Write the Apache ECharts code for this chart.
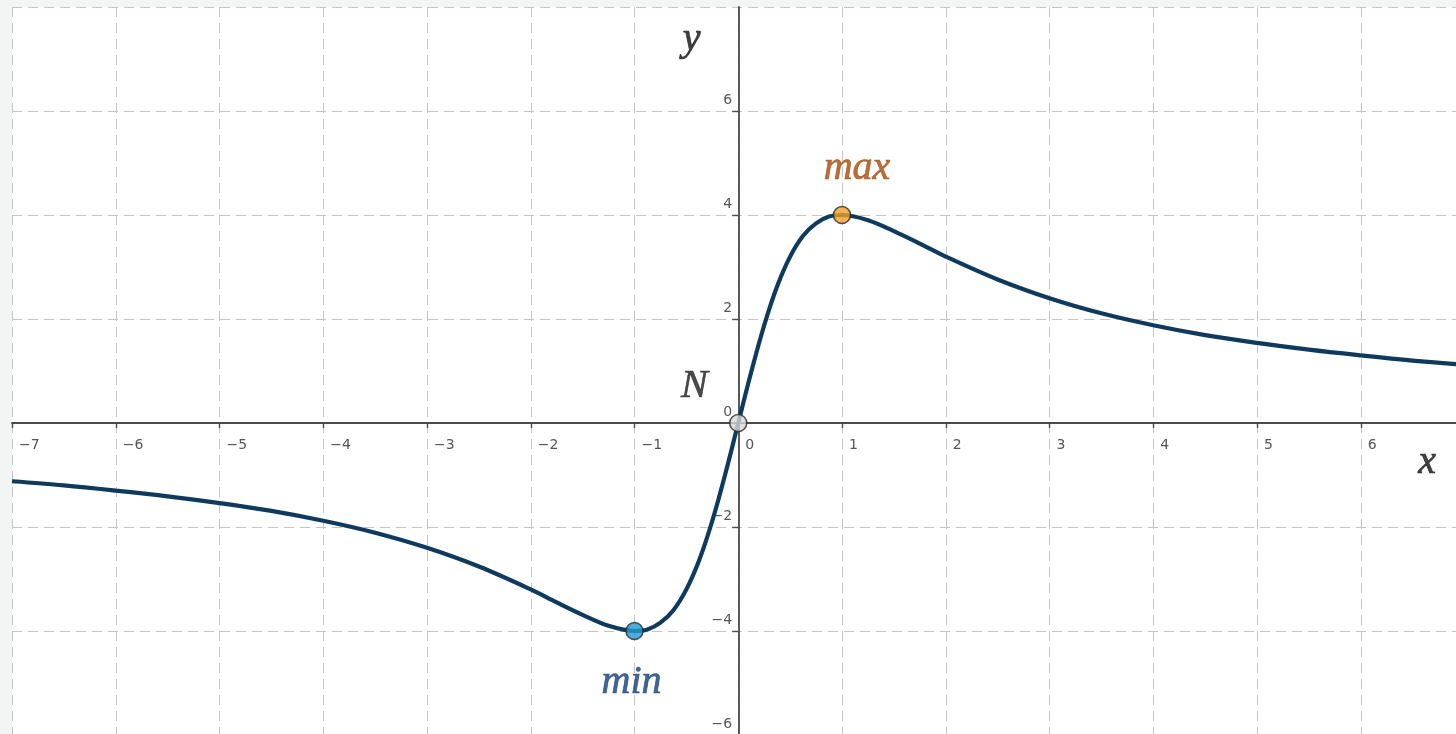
<!DOCTYPE html>
<html>
<head>
<meta charset="utf-8">
<title>f(x) with its extrema</title>
<script src="https://cdn.jsdelivr.net/npm/echarts@6/dist/echarts.min.js"></script>
<style>
  html, body { margin: 0; padding: 0; background: #f3f4f4; }
  #chart { width: 1456px; height: 734px; }
</style>
</head>
<body>
<div id="chart"></div>
<script>
// Curve samples (x, y)
const curveX = [-7, -6.5, -6, -5.5, -5, -4.5, -4, -3.5, -3, -2.5, -2, -1.75, -1.5, -1.25, -1,
  -0.875, -0.75, -0.625, -0.5, -0.375, -0.25, -0.125, 0, 0.125, 0.25, 0.375, 0.5, 0.625, 0.75,
  0.875, 1, 1.25, 1.5, 1.75, 2, 2.5, 3, 3.5, 4, 4.5, 5, 5.5, 6, 6.5, 7];
const curveY = [-1.12, -1.2, -1.3, -1.41, -1.54, -1.69, -1.88, -2.11, -2.4, -2.76, -3.2, -3.45, -3.69, -3.9, -4,
  -3.97, -3.84, -3.6, -3.2, -2.63, -1.88, -0.98, 0, 0.98, 1.88, 2.63, 3.2, 3.6, 3.84,
  3.97, 4, 3.9, 3.69, 3.45, 3.2, 2.76, 2.4, 2.11, 1.88, 1.69, 1.54, 1.41, 1.3, 1.2, 1.12];

// Marked points
const pointNames = ['N', 'max', 'min'];
const pointX = [0, 1, -1];
const pointY = [0, 4, -4];

// Axis ranges and tick steps
const xRange = [-7, 7];
const yRange = [-6, 8];
const xStep = 1;
const yStep = 2;

const fmt = v => (v < 0 ? '\u2212' + (-v) : String(v));

const chart = echarts.init(document.getElementById('chart'));

const axisColor = '#4a4a4a';
const gridLine = { show: true, lineStyle: { color: '#c4c4c4', width: 1, type: [10, 6] } };

const pointStyles = {
  N:   { fill: '#d9d9d9', text: '#1e1e1e', offset: [-44, -37] },
  max: { fill: '#f0a024', text: '#a94a08', offset: [15, -47] },
  min: { fill: '#1f9ad0', text: '#153f7c', offset: [-3, 51] }
};

const labelFont = { color: '#555', fontFamily: 'DejaVu Sans', fontSize: 14 };
const serif = (color) => ({
  color, fontFamily: 'Liberation Serif', fontStyle: 'italic', fontSize: 40,
  textBorderColor: color, textBorderWidth: 0.7
});

chart.setOption({
  animation: false,
  backgroundColor: '#f3f4f4',
  grid: {
    show: true, backgroundColor: '#ffffff', borderWidth: 0,
    left: 12, top: 7, right: -8.5, bottom: -1,
    containLabel: false, outerBoundsMode: 'none'
  },
  xAxis: {
    type: 'value', min: xRange[0], max: xRange[1], interval: xStep,
    axisLine: { onZero: false, lineStyle: { color: axisColor, width: 1.8 } },
    axisTick: { show: true, length: 5, lineStyle: { color: axisColor, width: 1.4 } },
    axisLabel: Object.assign({
      formatter: fmt, align: 'left', padding: [0, 0, 0, 7], margin: 15, showMaxLabel: false
    }, labelFont),
    splitLine: gridLine
  },
  yAxis: {
    type: 'value', min: yRange[0], max: yRange[1], interval: yStep,
    axisLine: { onZero: false, lineStyle: { color: axisColor, width: 1.8 } },
    axisTick: { show: true, length: 6, lineStyle: { color: axisColor, width: 1.4 } },
    axisLabel: Object.assign({
      formatter: fmt, verticalAlign: 'bottom', padding: [0, 0, 4, 0], margin: 6, showMaxLabel: false
    }, labelFont),
    splitLine: gridLine
  },
  series: [
    {
      type: 'line', data: curveX.map((x, i) => [x, curveY[i]]),
      smooth: 0.35, showSymbol: false, symbol: 'none', clip: true,
      lineStyle: { color: '#0e3a5e', width: 4.2 }, z: 3
    },
    {
      type: 'scatter', z: 4, symbolSize: 17,
      data: pointNames.map((n, i) => ({
        name: n, value: [pointX[i], pointY[i]],
        itemStyle: { color: pointStyles[n].fill, borderColor: '#2a2a2a', borderWidth: 1.6 },
        label: Object.assign({
          show: true, formatter: n, position: 'inside', offset: pointStyles[n].offset
        }, serif(pointStyles[n].text))
      }))
    },
    {
      // axis letters
      type: 'scatter', z: 4, symbolSize: 0, silent: true,
      data: [
        { value: [-0.45, 7.37], label: { formatter: 'y' } },
        { value: [6.64, -0.75], label: { formatter: 'x' } }
      ],
      label: Object.assign({ show: true, position: 'inside' }, serif('#111'))
    }
  ]
});

// Move both axes (line, ticks, labels) so they cross at the origin.
const rect = chart.getModel().getComponent('grid').coordinateSystem.getRect();
const origin = chart.convertToPixel({ gridIndex: 0 }, [0, 0]);
chart.setOption({
  xAxis: { offset: -(rect.y + rect.height - origin[1]) },
  yAxis: { offset: -(origin[0] - rect.x) }
});
</script>
</body>
</html>
